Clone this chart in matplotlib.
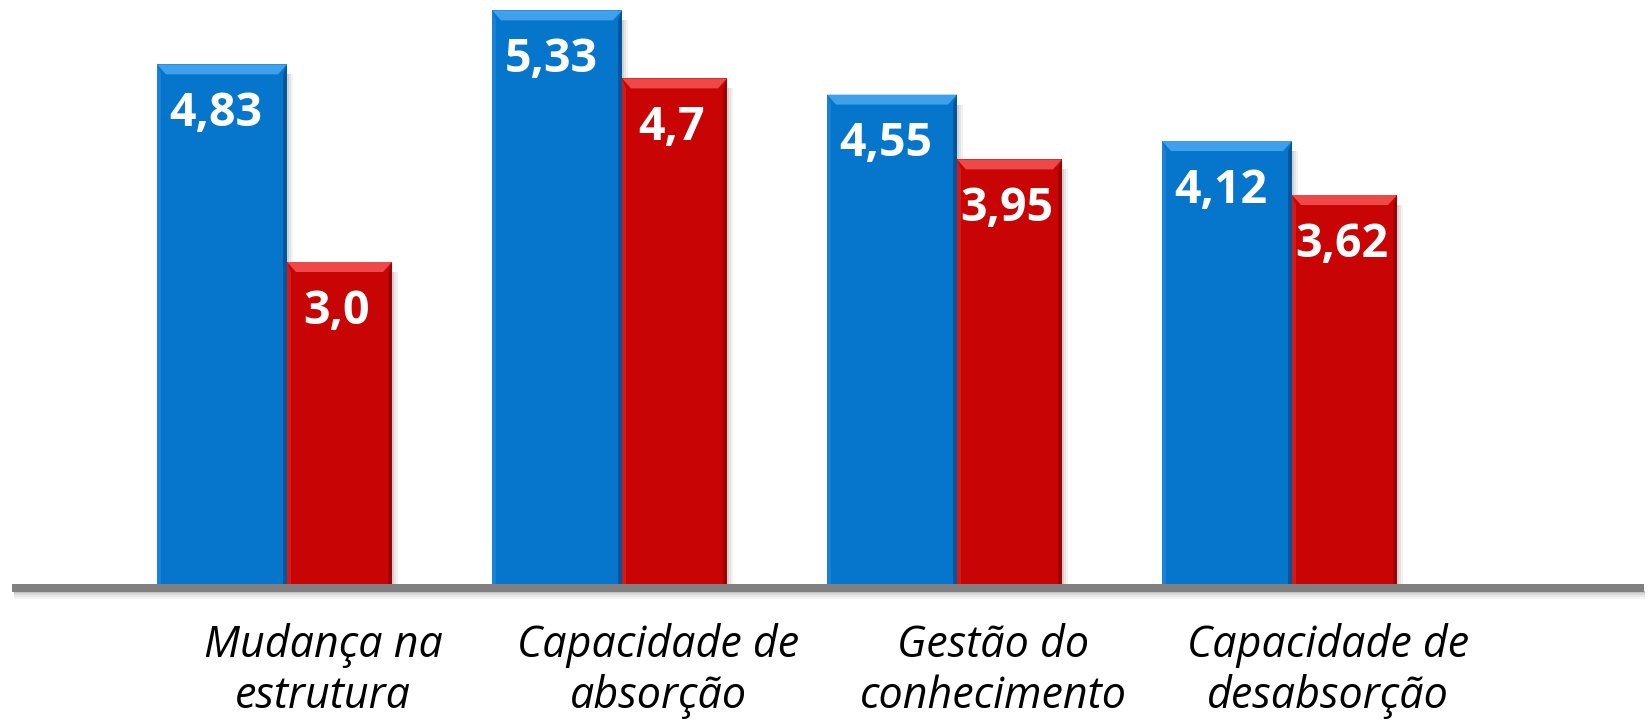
import matplotlib
matplotlib.use('Agg')
import matplotlib.pyplot as plt
from matplotlib.patches import Polygon
import numpy as np

categories = ['Mudança na\nestrutura', 'Capacidade de\nabsorção',
              'Gestão do\nconhecimento', 'Capacidade de\ndesabsorção']
blue_vals = [4.83, 5.33, 4.55, 4.12]
red_vals = [3.0, 4.7, 3.95, 3.62]
blue_labels = ['4,83', '5,33', '4,55', '4,12']
red_labels = ['3,0', '4,7', '3,95', '3,62']

W, H, DPI = 1649, 726, 100
PX_X = 335.0   # pixels per category
PX_Y = 108.0   # pixels per unit value

fig = plt.figure(figsize=(W / DPI, H / DPI), dpi=DPI)
ax = fig.add_axes([0, 0, 1, 1])
ax.set_xlim(-287 / PX_X, (W - 287) / PX_X)
ax.set_ylim(-(H - 586) / PX_Y, 586 / PX_Y)
ax.axis('off')

x = np.arange(len(categories))
bw = 130 / PX_X
rw = 105 / PX_X

red_bars = ax.bar(x + rw / 2, red_vals, width=rw, color='#C80404', zorder=2)
blue_bars = ax.bar(x - bw / 2, blue_vals, width=bw, color='#0676CC', zorder=3)


def bevel(rect, light, dark, side, z):
    x0, y0 = rect.get_x(), rect.get_y()
    x1, y1 = x0 + rect.get_width(), y0 + rect.get_height()
    bx, by = 9 / PX_X, 10 / PX_Y
    sx = 4 / PX_X
    ax.add_patch(Polygon([(x0, y1), (x1, y1), (x1 - bx, y1 - by), (x0 + bx, y1 - by)],
                         closed=True, color=light, lw=0, zorder=z))
    ax.add_patch(Polygon([(x1, y1), (x1 - sx, y1 - by), (x1 - sx, y0), (x1, y0)],
                         closed=True, color=dark, lw=0, zorder=z))
    ax.add_patch(Polygon([(x0, y1), (x0 + sx, y1 - by), (x0 + sx, y0), (x0, y0)],
                         closed=True, color=side, lw=0, zorder=z))
    # soft shadow on the right
    for k, a in enumerate([0.18, 0.10, 0.05]):
        ax.add_patch(Polygon([(x1 + k * 2 / PX_X, y1 - by), (x1 + (k + 1) * 2 / PX_X, y1 - by),
                              (x1 + (k + 1) * 2 / PX_X, y0), (x1 + k * 2 / PX_X, y0)],
                             closed=True, color='black', alpha=a, lw=0, zorder=1))


for r in red_bars:
    bevel(r, '#EE4848', '#A00000', '#D21A1A', 2.5)
for r in blue_bars:
    bevel(r, '#3FA0EC', '#04559A', '#1A82D6', 3.5)

val_font = dict(family=['Open Sans', 'DejaVu Sans'], weight='bold', size=33.5, color='white',
                ha='center', va='center', zorder=5)
shift = -6 / PX_X
for r, lab in zip(blue_bars, blue_labels):
    ax.text(r.get_x() + r.get_width() / 2 + shift, r.get_height() - 49 / PX_Y, lab, **val_font)
for r, lab in zip(red_bars, red_labels):
    ax.text(r.get_x() + r.get_width() / 2 + shift / 2, r.get_height() - 49 / PX_Y, lab, **val_font)

# baseline with a soft shadow
xmin, xmax = 12 / W, 1644 / W
for k, a in enumerate([0.22, 0.14, 0.08, 0.04]):
    ax.axhline(-(6 + 2 * k) / PX_Y, xmin=xmin + 0.002, xmax=xmax, color='black',
               alpha=a, lw=1.6, zorder=4)
ax.axhline(-2 / PX_Y, xmin=xmin, xmax=xmax, color='#808080', lw=5.76,
           solid_capstyle='butt', zorder=6)

for xi, cat in zip(x, categories):
    ax.text(xi + 36 / PX_X, -(671 - 586) / PX_Y, cat, family=['Open Sans', 'DejaVu Sans'],
            style='italic', size=31, ha='center', va='center', linespacing=1.18,
            color='black')

fig.savefig('out.png', dpi=DPI, facecolor='white')
